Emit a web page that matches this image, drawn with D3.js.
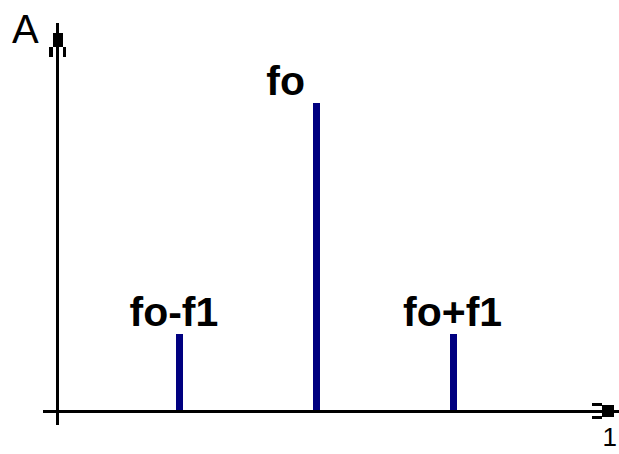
<!DOCTYPE html>
<html>
<head>
<meta charset="utf-8">
<script src="https://cdn.jsdelivr.net/npm/d3@7"></script>
<style>
  html, body { margin: 0; padding: 0; background: #fff; }
  svg { display: block; }
  text { font-family: "Liberation Sans", Arial, sans-serif; fill: #000; }
</style>
</head>
<body>
<div id="chart"></div>
<script>
// spectrum lines: offsets from the carrier (in units of f1) and amplitudes
const offsets = [-1, 0, 1];
const amplitudes = [0.25, 1, 0.25];
const labels = ["fo-f1", "fo", "fo+f1"];
const axisLabels = { y: "A", x: "1" };

const WIDTH = 619;
const HEIGHT = 454;
const ORIGIN = { X: 57.5, Y: 411.5 };
const BAR_WIDTH = 7;
const LABEL_SIZE = 41;

const svg = d3
  .select("#chart")
  .append("svg")
  .attr("width", WIDTH)
  .attr("height", HEIGHT);

const x = d3.scaleLinear([-1, 1], [179.5, 453]);
const y = d3.scaleLinear([0, 1], [ORIGIN.Y, 103]);

// axes drawn as plain lines (no ticks)
const axes = svg.append("g").attr("shape-rendering", "crispEdges");

axes
  .append("line")
  .attr("x1", 43)
  .attr("x2", 620)
  .attr("y1", y(0))
  .attr("y2", y(0))
  .attr("stroke", "#000")
  .attr("stroke-width", 3);

axes
  .append("line")
  .attr("x1", ORIGIN.X)
  .attr("x2", ORIGIN.X)
  .attr("y1", 23)
  .attr("y2", 425)
  .attr("stroke", "#000")
  .attr("stroke-width", 3);

// crude pixel arrow heads
const arrowY = axes.append("g");
arrowY.append("rect").attr("x", 53).attr("y", 33).attr("width", 10).attr("height", 14);
arrowY.append("rect").attr("x", 49).attr("y", 47).attr("width", 4).attr("height", 10);
arrowY.append("rect").attr("x", 63).attr("y", 47).attr("width", 3).attr("height", 10);

const arrowX = axes.append("g");
arrowX.append("rect").attr("x", 602).attr("y", 405).attr("width", 12).attr("height", 12);
arrowX.append("rect").attr("x", 592).attr("y", 403).attr("width", 10).attr("height", 3);
arrowX.append("rect").attr("x", 592).attr("y", 416).attr("width", 10).attr("height", 3);

// spectral lines
svg
  .append("g")
  .attr("shape-rendering", "crispEdges")
  .selectAll("rect")
  .data(d3.zip(offsets, amplitudes))
  .join("rect")
  .attr("x", ([o]) => Math.round(x(o) - BAR_WIDTH / 2))
  .attr("y", ([, a]) => Math.round(y(a)))
  .attr("width", BAR_WIDTH)
  .attr("height", ([, a]) => Math.round(y(0) - y(a)))
  .attr("fill", "#000080");

// redraw x axis over bar bottoms
axes.raise();

svg
  .append("g")
  .selectAll("text")
  .data(d3.zip(offsets, amplitudes, labels))
  .join("text")
  .attr("x", ([o]) => x(o) - 50)
  .attr("y", ([, a]) => y(a) - 8)
  .style("font-size", `${LABEL_SIZE}px`)
  .style("font-weight", "bold")
  .text(([, , l]) => l);

svg
  .append("text")
  .attr("x", 12)
  .attr("y", 43)
  .style("font-size", "40px")
  .text(axisLabels.y);

svg
  .append("text")
  .attr("x", 617)
  .attr("y", 446)
  .attr("text-anchor", "end")
  .style("font-size", "26px")
  .text(axisLabels.x);
</script>
</body>
</html>
